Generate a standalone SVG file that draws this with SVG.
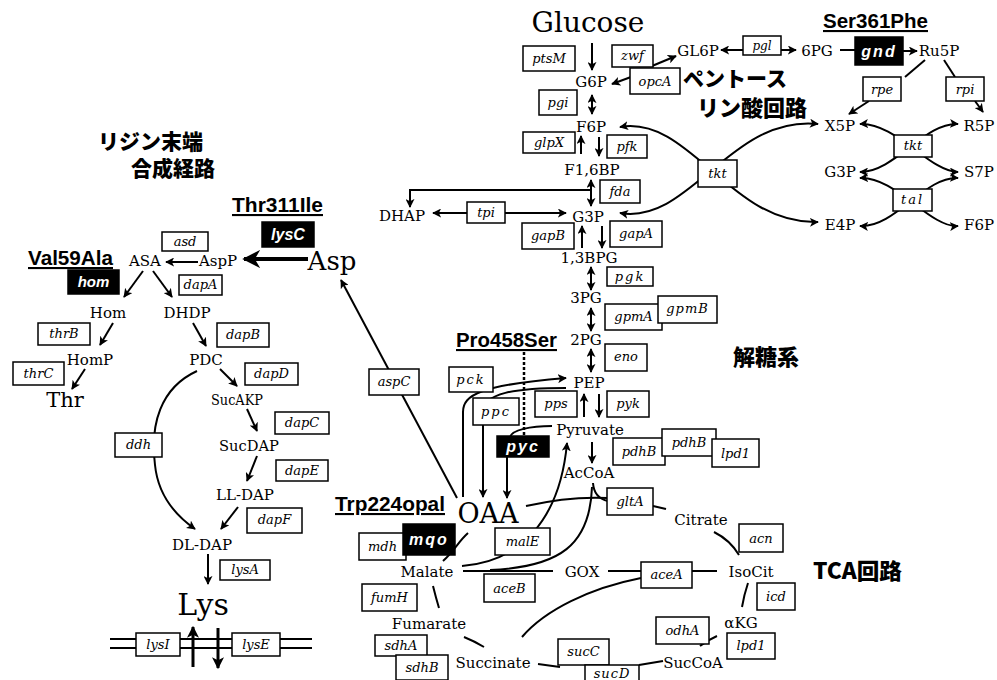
<svg xmlns="http://www.w3.org/2000/svg" width="997" height="680" viewBox="0 0 997 680">
<defs>
<marker id="ah" viewBox="0 0 10 10" refX="9" refY="5" markerWidth="9" markerHeight="9" markerUnits="userSpaceOnUse" orient="auto-start-reverse"><path d="M0,0 L10,5 L0,10 L2.5,5 z" fill="#000"/></marker>
<marker id="big" viewBox="0 0 10 10" refX="9" refY="5" markerWidth="18" markerHeight="18" markerUnits="userSpaceOnUse" orient="auto"><path d="M0,0 L10,5 L0,10 L3,5 z" fill="#000"/></marker>
<marker id="mid" viewBox="0 0 10 10" refX="9" refY="5" markerWidth="12" markerHeight="12" markerUnits="userSpaceOnUse" orient="auto"><path d="M0,0 L10,5 L0,10 L2.5,5 z" fill="#000"/></marker>
</defs>
<style>
.c{fill:none;stroke:#000;stroke-width:2}
.ae{marker-end:url(#ah)}
.ab{marker-start:url(#ah);marker-end:url(#ah)}
.b{fill:#fff;stroke:#000;stroke-width:1.5}
.k{fill:#000;stroke:#000;stroke-width:1.5}
.m{font-family:"DejaVu Serif","Liberation Serif",serif;font-size:15px;fill:#000;text-anchor:middle}
.g{font-family:"DejaVu Serif","Liberation Serif",serif;font-style:italic;font-size:13px;fill:#000;text-anchor:middle}
.w{font-family:"Liberation Sans",sans-serif;font-weight:bold;font-style:italic;font-size:16px;fill:#fff;text-anchor:middle}
.j{font-family:"Noto Sans CJK JP",sans-serif;font-weight:900;font-size:21px;fill:#000}
.mu{font-family:"Liberation Sans","Noto Sans CJK JP",sans-serif;font-weight:bold;font-size:21px;fill:#000;text-decoration:underline}
</style>
<rect width="997" height="680" fill="#fff"/>

<g id="connectors">
<line class="c ae" x1="592" y1="43" x2="592" y2="70"/>
<line class="c ae" x1="631" y1="77" x2="612" y2="84"/>
<line class="c ae" x1="652" y1="66" x2="676" y2="56"/>
<line class="c ae" x1="743" y1="50" x2="721" y2="50"/>
<line class="c ae" x1="781" y1="50" x2="796" y2="50"/>
<line class="c" x1="840" y1="50" x2="855" y2="50"/>
<line class="c ae" x1="903" y1="51" x2="917" y2="51"/>
<line class="c" x1="925" y1="60" x2="905" y2="77"/>
<line class="c ae" x1="869" y1="101" x2="849" y2="114"/>
<line class="c" x1="944" y1="60" x2="955" y2="77"/>
<line class="c ae" x1="975" y1="101" x2="983" y2="112"/>
<path class="c ab" d="M860,124 C895,122 930,172 958,172"/>
<path class="c ab" d="M958,124 C925,122 895,172 860,172"/>
<path class="c ab" d="M860,178 C895,176 930,228 958,226"/>
<path class="c ab" d="M958,178 C925,176 895,228 860,226"/>
<path class="c ab" d="M620,127 C690,115 730,225 818,222"/>
<path class="c ab" d="M620,213 C690,225 730,115 818,124"/>
<line class="c ab" x1="592" y1="95" x2="592" y2="114"/>
<line class="c ae" x1="581" y1="154" x2="581" y2="136"/>
<line class="c ae" x1="599" y1="137" x2="599" y2="156"/>
<line class="c ab" x1="591" y1="180" x2="591" y2="206"/>
<polyline class="c ae" points="591,190 410,190 410,207"/>
<line class="c ae" x1="467" y1="213" x2="433" y2="213"/>
<line class="c ae" x1="505" y1="213" x2="566" y2="213"/>
<line class="c ae" x1="582" y1="248" x2="582" y2="226"/>
<line class="c ae" x1="602" y1="226" x2="602" y2="248"/>
<line class="c ab" x1="591" y1="267" x2="591" y2="290"/>
<line class="c ab" x1="591" y1="308" x2="591" y2="331"/>
<line class="c ab" x1="591" y1="349" x2="591" y2="372"/>
<line class="c ae" x1="584" y1="417" x2="584" y2="394"/>
<line class="c ae" x1="599" y1="394" x2="599" y2="417"/>
<line class="c ae" x1="592" y1="442" x2="592" y2="463"/>
<path class="c ae" d="M463,497 L463,412 C463,395 480,385 566,378"/>
<path class="c ae" d="M566,388 C515,388 483,393 483,412 L483,497"/>
<line x1="524" y1="352" x2="524" y2="437" stroke="#000" stroke-width="2.5" stroke-dasharray="3,2"/>
<path class="c" d="M552,426 C530,426 512,430 510,437"/>
<line class="c ae" x1="507" y1="457" x2="507" y2="498"/>
<line class="c ae" x1="457" y1="498" x2="341" y2="280"/>
<line fill="none" stroke="#000" stroke-width="4" x1="308" y1="259" x2="244" y2="259" marker-end="url(#big)"/>
<line class="c ae" x1="198" y1="262" x2="166" y2="262"/>
<line class="c ae" x1="143" y1="271" x2="124" y2="297"/>
<line class="c ae" x1="153" y1="271" x2="172" y2="297"/>
<line class="c ae" x1="113" y1="323" x2="100" y2="345"/>
<line class="c ae" x1="85" y1="369" x2="72" y2="389"/>
<line class="c ae" x1="193" y1="323" x2="206" y2="346"/>
<line class="c ae" x1="220" y1="369" x2="237" y2="386"/>
<line class="c ae" x1="247" y1="409" x2="257" y2="431"/>
<line class="c ae" x1="257" y1="456" x2="247" y2="481"/>
<line class="c ae" x1="238" y1="507" x2="221" y2="529"/>
<path class="c ae" d="M197,371 C160,388 150,425 155,465 C158,495 175,515 195,529"/>
<line class="c ae" x1="208" y1="554" x2="208" y2="584"/>
<line class="c" x1="110" y1="639" x2="312" y2="639"/>
<line class="c" x1="110" y1="648" x2="312" y2="648"/>
<line fill="none" stroke="#000" stroke-width="3" x1="193" y1="667" x2="193" y2="627" marker-end="url(#mid)"/>
<line fill="none" stroke="#000" stroke-width="3" x1="218" y1="628" x2="218" y2="668" marker-end="url(#mid)"/>
<path class="c" d="M526,506 Q570,496 608,498"/>
<path class="c" d="M593,483 Q594,498 608,501"/>
<line class="c" x1="653" y1="506" x2="666" y2="509"/>
<path class="c" d="M714,532 Q730,540 739,555"/>
<line class="c" x1="692" y1="571" x2="717" y2="571"/>
<line class="c" x1="608" y1="571" x2="641" y2="571"/>
<path class="c" d="M641,578 C590,588 545,610 522,637"/>
<path class="c" d="M748,583 Q744,595 742,607"/>
<path class="c" d="M717,636 Q708,640 700,646"/>
<line class="c" x1="663" y1="661" x2="639" y2="665"/>
<line class="c" x1="538" y1="664" x2="560" y2="667"/>
<path class="c" d="M464,637 Q474,641 484,647"/>
<path class="c" d="M433,586 Q436,598 439,608"/>
<line class="c" x1="463" y1="571" x2="553" y2="571"/>
<path class="c ae" d="M462,566 C520,562 560,520 567,443"/>
<path class="c" d="M592,487 C590,545 560,567 490,570"/>
<path class="c" d="M443,561 C455,550 458,542 468,533"/>
</g>

<g id="labels">
<text class="mu" x="823" y="28" textLength="105" lengthAdjust="spacingAndGlyphs">Ser361Phe</text>
<text class="mu" x="232" y="212" textLength="91" lengthAdjust="spacingAndGlyphs">Thr311Ile</text>
<text class="mu" x="28" y="265" textLength="85" lengthAdjust="spacingAndGlyphs">Val59Ala</text>
<text class="mu" x="456" y="347" textLength="101" lengthAdjust="spacingAndGlyphs">Pro458Ser</text>
<text class="mu" x="335" y="511" textLength="110" lengthAdjust="spacingAndGlyphs">Trp224opal</text>
<text class="j" x="683" y="86">ペントース</text>
<text class="j" x="697" y="116" style="font-size:22px">リン酸回路</text>
<text class="j" x="733" y="365" style="font-size:22px">解糖系</text>
<text class="j" x="813" y="579" style="font-size:22px" textLength="89" lengthAdjust="spacingAndGlyphs">TCA回路</text>
<text class="j" x="98" y="149">リジン末端</text>
<text class="j" x="131" y="176">合成経路</text>
</g>

<g id="m-Glucose"><text class="m" x="588" y="32" style="font-size:28px">Glucose</text></g>
<g id="m-G6P"><text class="m" x="591" y="87">G6P</text></g>
<g id="m-GL6P"><text class="m" x="698" y="56">GL6P</text></g>
<g id="m-6PG"><text class="m" x="817" y="56">6PG</text></g>
<g id="m-Ru5P"><text class="m" x="939" y="56">Ru5P</text></g>
<g id="m-X5P"><text class="m" x="840" y="131">X5P</text></g>
<g id="m-R5P"><text class="m" x="979" y="131">R5P</text></g>
<g id="m-G3P-r"><text class="m" x="840" y="177">G3P</text></g>
<g id="m-S7P"><text class="m" x="979" y="177">S7P</text></g>
<g id="m-E4P"><text class="m" x="840" y="230">E4P</text></g>
<g id="m-F6P-r"><text class="m" x="979" y="230">F6P</text></g>
<g id="m-F6P"><text class="m" x="591" y="132">F6P</text></g>
<g id="m-F16BP"><text class="m" x="592" y="175">F1,6BP</text></g>
<g id="m-DHAP"><text class="m" x="402" y="221">DHAP</text></g>
<g id="m-G3P"><text class="m" x="588" y="222">G3P</text></g>
<g id="m-13BPG"><text class="m" x="589" y="263">1,3BPG</text></g>
<g id="m-3PG"><text class="m" x="586" y="303">3PG</text></g>
<g id="m-2PG"><text class="m" x="586" y="345">2PG</text></g>
<g id="m-PEP"><text class="m" x="589" y="388">PEP</text></g>
<g id="m-Pyruvate"><text class="m" x="590" y="435">Pyruvate</text></g>
<g id="m-AcCoA"><text class="m" x="589" y="478">AcCoA</text></g>
<g id="m-OAA"><text class="m" x="488" y="523" style="font-size:27px">OAA</text></g>
<g id="m-Citrate"><text class="m" x="701" y="525">Citrate</text></g>
<g id="m-IsoCit"><text class="m" x="751" y="577">IsoCit</text></g>
<g id="m-aKG"><text class="m" x="741" y="628">αKG</text></g>
<g id="m-SucCoA"><text class="m" x="693" y="668">SucCoA</text></g>
<g id="m-Succinate"><text class="m" x="493" y="668">Succinate</text></g>
<g id="m-Fumarate"><text class="m" x="429" y="629">Fumarate</text></g>
<g id="m-Malate"><text class="m" x="427" y="577">Malate</text></g>
<g id="m-GOX"><text class="m" x="582" y="577">GOX</text></g>
<g id="m-Asp"><text class="m" x="332" y="270" style="font-size:26px">Asp</text></g>
<g id="m-AspP"><text class="m" x="218" y="266">AspP</text></g>
<g id="m-ASA"><text class="m" x="145" y="266">ASA</text></g>
<g id="m-Hom"><text class="m" x="108" y="318">Hom</text></g>
<g id="m-DHDP"><text class="m" x="187" y="318">DHDP</text></g>
<g id="m-HomP"><text class="m" x="90" y="365">HomP</text></g>
<g id="m-Thr"><text class="m" x="65" y="407" style="font-size:21px">Thr</text></g>
<g id="m-PDC"><text class="m" x="206" y="365">PDC</text></g>
<g id="m-SucAKP"><text class="m" x="237" y="405" textLength="52" lengthAdjust="spacingAndGlyphs">SucAKP</text></g>
<g id="m-SucDAP"><text class="m" x="249" y="451" textLength="60" lengthAdjust="spacingAndGlyphs">SucDAP</text></g>
<g id="m-LLDAP"><text class="m" x="245" y="500">LL-DAP</text></g>
<g id="m-DLDAP"><text class="m" x="202" y="550">DL-DAP</text></g>
<g id="m-Lys"><text class="m" x="203" y="615" style="font-size:30px">Lys</text></g>

<g id="g-ptsM"><rect class="b" x="523" y="46" width="52" height="25"/><text class="g" x="549" y="63">ptsM</text></g>
<g id="g-zwf"><rect class="b" x="612" y="45" width="41" height="22"/><text class="g" x="632.5" y="60">zwf</text></g>
<g id="g-opcA"><rect class="b" x="630" y="68" width="50" height="26"/><text class="g" x="655" y="85.5">opcA</text></g>
<g id="g-pgl"><rect class="b" x="743" y="36" width="38" height="19"/><text class="g" x="762" y="49.5" style="font-size:12px">pgl</text></g>
<g id="g-gnd"><rect class="k" x="855" y="37" width="48" height="28"/><text class="w" x="879" y="57" letter-spacing="2">gnd</text></g>
<g id="g-rpe"><rect class="b" x="863" y="77" width="38" height="24"/><text class="g" x="882" y="93.5">rpe</text></g>
<g id="g-rpi"><rect class="b" x="946" y="77" width="38" height="24"/><text class="g" x="965" y="93.5">rpi</text></g>
<g id="g-pgi"><rect class="b" x="539" y="90" width="38" height="25"/><text class="g" x="558" y="107">pgi</text></g>
<g id="g-glpX"><rect class="b" x="523" y="132" width="52" height="21"/><text class="g" x="549" y="147">glpX</text></g>
<g id="g-pfk"><rect class="b" x="607" y="135" width="40" height="23"/><text class="g" x="627" y="151">pfk</text></g>
<g id="g-tkt1"><rect class="b" x="698" y="160" width="39" height="27"/><text class="g" x="717.5" y="178">tkt</text></g>
<g id="g-tkt2"><rect class="b" x="894" y="135" width="38" height="22"/><text class="g" x="913" y="150">tkt</text></g>
<g id="g-tal"><rect class="b" x="893" y="189" width="39" height="22"/><text class="g" x="912.5" y="204" letter-spacing="2">tal</text></g>
<g id="g-fda"><rect class="b" x="600" y="180" width="40" height="23"/><text class="g" x="620" y="196">fda</text></g>
<g id="g-tpi"><rect class="b" x="467" y="202" width="38" height="21"/><text class="g" x="486" y="217">tpi</text></g>
<g id="g-gapB"><rect class="b" x="522" y="223" width="52" height="26"/><text class="g" x="548" y="240">gapB</text></g>
<g id="g-gapA"><rect class="b" x="610" y="221" width="52" height="26"/><text class="g" x="636" y="238">gapA</text></g>
<g id="g-pgk"><rect class="b" x="607" y="267" width="46" height="19"/><text class="g" x="630" y="281" letter-spacing="2">pgk</text></g>
<g id="g-gpmA"><rect class="b" x="605" y="304" width="57" height="26"/><text class="g" x="633.5" y="321">gpmA</text></g>
<g id="g-gpmB"><rect class="b" x="658" y="296" width="59" height="27"/><text class="g" x="687.5" y="313" letter-spacing="1">gpmB</text></g>
<g id="g-eno"><rect class="b" x="605" y="344" width="42" height="27"/><text class="g" x="626" y="361">eno</text></g>
<g id="g-pck"><rect class="b" x="449" y="367" width="44" height="25"/><text class="g" x="471" y="383.5" letter-spacing="2">pck</text></g>
<g id="g-pps"><rect class="b" x="535" y="391" width="42" height="26"/><text class="g" x="556" y="408">pps</text></g>
<g id="g-pyk"><rect class="b" x="607" y="391" width="42" height="26"/><text class="g" x="628" y="408">pyk</text></g>
<g id="g-ppc"><rect class="b" x="473" y="398" width="46" height="27"/><text class="g" x="496" y="415.5" letter-spacing="2">ppc</text></g>
<g id="g-aspC"><rect class="b" x="369" y="369" width="50" height="26"/><text class="g" x="394" y="386">aspC</text></g>
<g id="g-pyc"><rect class="k" x="497" y="436" width="52" height="21"/><text class="w" x="523" y="452" letter-spacing="2">pyc</text></g>
<g id="g-pdhB1"><rect class="b" x="613" y="438" width="52" height="27"/><text class="g" x="639" y="455.5">pdhB</text></g>
<g id="g-pdhB2"><rect class="b" x="662" y="429" width="54" height="27"/><text class="g" x="689" y="446.5">pdhB</text></g>
<g id="g-lpd1"><rect class="b" x="712" y="439" width="47" height="28"/><text class="g" x="735.5" y="457.5">lpd1</text></g>
<g id="g-gltA"><rect class="b" x="607" y="488" width="46" height="27"/><text class="g" x="630" y="505.5">gltA</text></g>
<g id="g-mdh"><rect class="b" x="359" y="533" width="47" height="27"/><text class="g" x="382.5" y="550.5">mdh</text></g>
<g id="g-mqo"><rect class="k" x="403" y="524" width="52" height="31"/><text class="w" x="429" y="545" letter-spacing="2">mqo</text></g>
<g id="g-malE"><rect class="b" x="495" y="528" width="55" height="27"/><text class="g" x="522.5" y="545.5">malE</text></g>
<g id="g-acn"><rect class="b" x="739" y="524" width="44" height="28"/><text class="g" x="761" y="542.5">acn</text></g>
<g id="g-aceA"><rect class="b" x="641" y="562" width="51" height="26"/><text class="g" x="666.5" y="579">aceA</text></g>
<g id="g-aceB"><rect class="b" x="484" y="574" width="51" height="28"/><text class="g" x="509.5" y="592.5">aceB</text></g>
<g id="g-fumH"><rect class="b" x="362" y="584" width="55" height="27"/><text class="g" x="389.5" y="601.5">fumH</text></g>
<g id="g-icd"><rect class="b" x="757" y="583" width="38" height="27"/><text class="g" x="776" y="600.5">icd</text></g>
<g id="g-odhA"><rect class="b" x="656" y="617" width="53" height="27"/><text class="g" x="682.5" y="634.5">odhA</text></g>
<g id="g-lpd1b"><rect class="b" x="727" y="633" width="48" height="26"/><text class="g" x="751" y="650">lpd1</text></g>
<g id="g-sdhA"><rect class="b" x="375" y="635" width="52" height="21"/><text class="g" x="401" y="650">sdhA</text></g>
<g id="g-sdhB"><rect class="b" x="396" y="655" width="52" height="25"/><text class="g" x="422" y="672">sdhB</text></g>
<g id="g-sucC"><rect class="b" x="558" y="639" width="51" height="26"/><text class="g" x="583.5" y="656">sucC</text></g>
<g id="g-sucD"><rect class="b" x="585" y="665" width="54" height="20"/><text class="g" x="612" y="678" letter-spacing="1">sucD</text></g>
<g id="g-asd"><rect class="b" x="162" y="232" width="46" height="19"/><text class="g" x="185" y="246">asd</text></g>
<g id="g-lysC"><rect class="k" x="262" y="222" width="52" height="25"/><text class="w" x="288" y="240">lysC</text></g>
<g id="g-hom"><rect class="k" x="68" y="270" width="51" height="24"/><text class="w" x="93.5" y="287" style="font-size:15px">hom</text></g>
<g id="g-dapA"><rect class="b" x="179" y="275" width="43" height="20"/><text class="g" x="200.5" y="289">dapA</text></g>
<g id="g-thrB"><rect class="b" x="38" y="323" width="52" height="22"/><text class="g" x="64" y="338">thrB</text></g>
<g id="g-dapB"><rect class="b" x="217" y="323" width="52" height="24"/><text class="g" x="243" y="339">dapB</text></g>
<g id="g-thrC"><rect class="b" x="13" y="362" width="51" height="23"/><text class="g" x="38.5" y="378">thrC</text></g>
<g id="g-dapD"><rect class="b" x="245" y="363" width="53" height="22"/><text class="g" x="271.5" y="378">dapD</text></g>
<g id="g-ddh"><rect class="b" x="115" y="433" width="47" height="24"/><text class="g" x="138.5" y="449">ddh</text></g>
<g id="g-dapC"><rect class="b" x="275" y="412" width="54" height="22"/><text class="g" x="302" y="427">dapC</text></g>
<g id="g-dapE"><rect class="b" x="276" y="460" width="52" height="21"/><text class="g" x="302" y="475">dapE</text></g>
<g id="g-dapF"><rect class="b" x="247" y="508" width="55" height="25"/><text class="g" x="274.5" y="524">dapF</text></g>
<g id="g-lysA"><rect class="b" x="220" y="560" width="50" height="20"/><text class="g" x="245" y="574">lysA</text></g>
<g id="g-lysI"><rect class="b" x="136" y="633" width="44" height="23"/><text class="g" x="158" y="648.5">lysI</text></g>
<g id="g-lysE"><rect class="b" x="232" y="633" width="48" height="23"/><text class="g" x="256" y="648.5">lysE</text></g>
</svg>
